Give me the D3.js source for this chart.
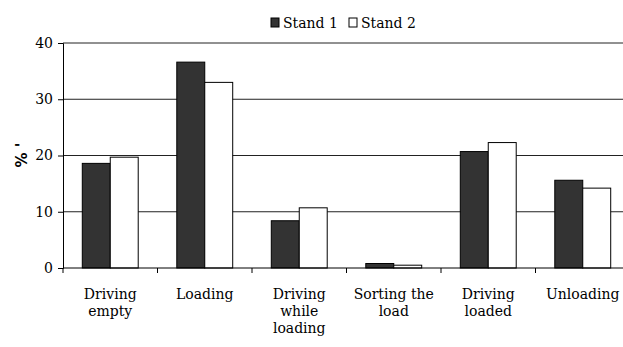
<!DOCTYPE html>
<html>
<head>
<meta charset="utf-8">
<script src="https://cdn.jsdelivr.net/npm/d3@7"></script>
<style>
  body { margin: 0; background: #fff; }
</style>
</head>
<body>
<div id="chart"></div>
<script>
const categories = ["Driving empty", "Loading", "Driving while loading", "Sorting the load", "Driving loaded", "Unloading"];
const labelLines = [["Driving", "empty"], ["Loading"], ["Driving", "while", "loading"], ["Sorting the", "load"], ["Driving", "loaded"], ["Unloading"]];
const series = ["Stand 1", "Stand 2"];
const stand1 = [18.6, 36.6, 8.4, 0.8, 20.7, 15.6];
const stand2 = [19.7, 33.0, 10.7, 0.5, 22.3, 14.2];
const yTicks = [0, 10, 20, 30, 40];

const width = 623, height = 347;
const serif = "'DejaVu Serif', serif";
const colors = { "Stand 1": "#333333", "Stand 2": "#ffffff" };

const svg = d3.select("#chart")
    .append("svg")
    .attr("width", width)
    .attr("height", height)
    .attr("font-family", serif);

// plot runs past the right edge, as in the source picture
const x0 = d3.scaleBand()
    .domain(categories)
    .range([63, 630]);

const x1 = d3.scaleBand()
    .domain(series)
    .range([0, x0.bandwidth()])
    .paddingOuter(0.69);

const y = d3.scaleLinear()
    .domain([0, 40])
    .range([268, 43]);

// gridlines
svg.selectAll(".grid")
    .data(yTicks.slice(1))
    .enter()
    .append("line")
    .attr("x1", 63)
    .attr("x2", width)
    .attr("y1", d => y(d))
    .attr("y2", d => y(d))
    .attr("stroke", "#222")
    .attr("stroke-width", 1);

// bars
const rows = categories.map((c, i) => ({ cat: c, values: [stand1[i], stand2[i]] }));

svg.selectAll(".group")
    .data(rows)
    .enter()
    .append("g")
    .attr("transform", d => `translate(${x0(d.cat)},0)`)
    .selectAll("rect")
    .data(d => d.values.map((v, j) => ({ key: series[j], value: v })))
    .enter()
    .append("rect")
    .attr("x", d => x1(d.key))
    .attr("width", x1.bandwidth())
    .attr("y", d => y(d.value))
    .attr("height", d => y(0) - y(d.value))
    .attr("fill", d => colors[d.key])
    .attr("stroke", "#000")
    .attr("stroke-width", 1);

// y axis
const yAxis = d3.axisLeft(y)
    .tickValues(yTicks)
    .tickSize(5)
    .tickPadding(5);

svg.append("g")
    .attr("transform", "translate(63,0)")
    .call(yAxis)
    .attr("font-family", serif)
    .attr("font-size", 14)
    .call(g => g.select(".domain").attr("stroke", "#000"))
    .call(g => g.selectAll(".tick line").attr("stroke", "#000"))
    .call(g => g.selectAll(".tick text").attr("fill", "#000"));

// x axis line and ticks at band boundaries
svg.append("line")
    .attr("x1", 63).attr("x2", width)
    .attr("y1", y(0)).attr("y2", y(0))
    .attr("stroke", "#000");

const bounds = categories.map(c => x0(c)).concat([x0.range()[1]]);
svg.selectAll(".xtick")
    .data(bounds)
    .enter()
    .append("line")
    .attr("x1", d => d).attr("x2", d => d)
    .attr("y1", y(0)).attr("y2", y(0) + 5)
    .attr("stroke", "#000");

// category labels
svg.selectAll(".xlabel")
    .data(categories)
    .enter()
    .append("text")
    .attr("x", d => x0(d) + x0.bandwidth() / 2)
    .attr("y", 299)
    .attr("text-anchor", "middle")
    .attr("font-size", 14)
    .selectAll("tspan")
    .data((d, i) => labelLines[i])
    .enter()
    .append("tspan")
    .attr("x", function() { return this.parentNode.getAttribute("x"); })
    .attr("dy", (d, i) => i === 0 ? 0 : 17)
    .text(d => d);

// y label
svg.append("text")
    .attr("transform", "translate(27,155) rotate(-90)")
    .attr("text-anchor", "middle")
    .attr("font-family", "'DejaVu Sans', sans-serif")
    .attr("font-weight", "bold")
    .attr("font-size", 15)
    .text("% '");

// legend
const legend = svg.append("g").attr("transform", "translate(271,18)");
const legendX = [0, 78];
series.forEach((s, i) => {
    legend.append("rect")
        .attr("x", legendX[i])
        .attr("y", 0)
        .attr("width", 8)
        .attr("height", 9)
        .attr("fill", colors[s])
        .attr("stroke", "#000");
    legend.append("text")
        .attr("x", legendX[i] + 12)
        .attr("y", 10)
        .attr("font-size", 14)
        .text(s);
});
</script>
</body>
</html>
